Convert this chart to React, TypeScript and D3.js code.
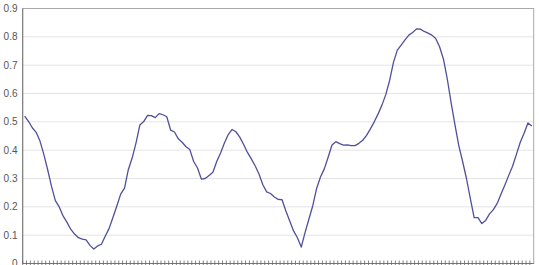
import React from "react";
import * as d3 from "d3";

const yTicks = [0, 0.1, 0.2, 0.3, 0.4, 0.5, 0.6, 0.7, 0.8, 0.9];
const yTickLabels = ["0", "0.1", "0.2", "0.3", "0.4", "0.5", "0.6", "0.7", "0.8", "0.9"];

const values = [
  0.52, 0.502, 0.479, 0.463, 0.432, 0.385, 0.331, 0.272, 0.222, 0.2,
  0.168, 0.146, 0.121, 0.104, 0.091, 0.086, 0.083, 0.064, 0.051, 0.062,
  0.068, 0.097, 0.124, 0.163, 0.203, 0.245, 0.266, 0.332, 0.373, 0.426,
  0.489, 0.501, 0.523, 0.522, 0.515, 0.529, 0.525, 0.518, 0.471, 0.464,
  0.44, 0.428, 0.412, 0.402, 0.36, 0.337, 0.298, 0.3, 0.311, 0.322,
  0.36, 0.39, 0.425, 0.455, 0.473, 0.465, 0.446, 0.42, 0.392, 0.369,
  0.345, 0.316, 0.278, 0.253, 0.247, 0.235, 0.226, 0.225, 0.185, 0.15,
  0.115, 0.091, 0.058, 0.11, 0.157, 0.204, 0.265, 0.305, 0.334, 0.375,
  0.418, 0.43, 0.423, 0.418, 0.419, 0.416, 0.416, 0.424, 0.435, 0.452,
  0.475, 0.5, 0.528, 0.559, 0.596, 0.646, 0.71, 0.753, 0.771, 0.789,
  0.806, 0.815, 0.828, 0.827, 0.819, 0.813, 0.806, 0.794, 0.765, 0.722,
  0.652, 0.568, 0.49, 0.416, 0.36, 0.3, 0.23, 0.162, 0.162, 0.141,
  0.152, 0.175, 0.19, 0.212, 0.245, 0.277, 0.311, 0.343, 0.385, 0.428,
  0.46, 0.496, 0.485,
];

const categories = values.map((_, i) => String(i + 1));

export default function App() {
  const W = 539, H = 265;
  const left = 22.7, right = 533.7, top = 8.5, bottom = 263.5;
  const x = d3.scaleBand<string>().domain(categories).range([left, right]).padding(0);
  const y = d3.scaleLinear().domain([0, 0.9]).range([bottom, top]);
  const line = d3.line<number>()
    .x((_, i) => (x(categories[i]) as number) + x.bandwidth() / 2)
    .y((d) => y(d));
  const font = "'Liberation Sans', Arial, sans-serif";
  return (
    <svg width={W} height={H} style={{ position: "absolute", left: 0, top: 0 }}>
      <rect x={0} y={0} width={W} height={H} fill="#fff" />
      {yTicks.map((t) => (
        <line key={"g" + t} x1={left} x2={right} y1={y(t)} y2={y(t)} stroke="#e4e4e4" strokeWidth={1} />
      ))}
      <rect x={left} y={top} width={right - left} height={bottom - top} fill="none" stroke="#a8a8a8" strokeWidth={1} />
      <line x1={left} x2={left} y1={top} y2={bottom} stroke="#777" strokeWidth={1} />
      <line x1={left} x2={right} y1={bottom} y2={bottom} stroke="#777" strokeWidth={1} />
      {categories.map((c, i) => (
        <line key={"t" + i} x1={(x(c) as number)} x2={(x(c) as number)} y1={bottom - 3} y2={bottom + 2} stroke="#666" strokeWidth={0.8} />
      ))}
      {yTicks.map((t, i) => (
        <text key={"l" + t} x={17.5} y={y(t)} dy="0.35em" textAnchor="end" fontFamily={font} fontSize={10} fill="#555">
          {yTickLabels[i]}
        </text>
      ))}
      <path d={line(values) || ""} fill="none" stroke="#4f4f9c" strokeWidth={1.3} strokeLinejoin="round" />
    </svg>
  );
}
